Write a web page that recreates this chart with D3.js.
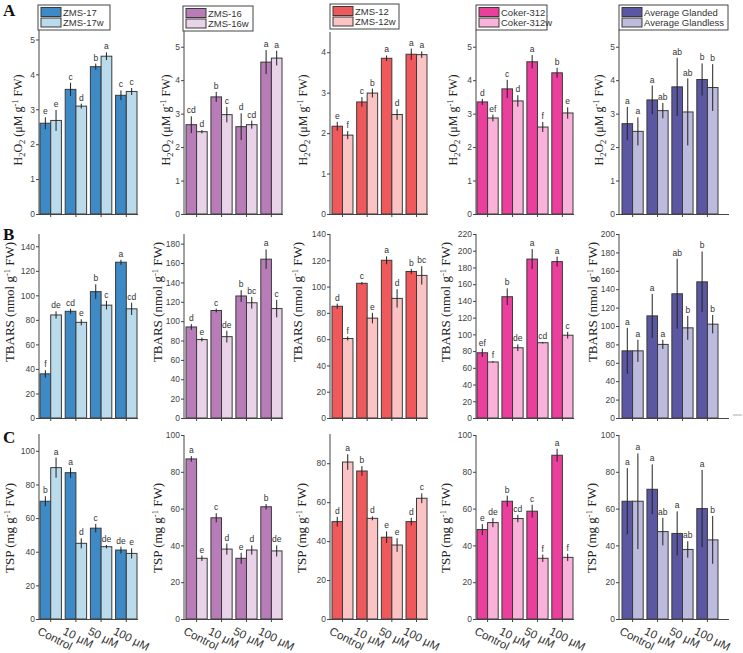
<!DOCTYPE html>
<html>
<head>
<meta charset="utf-8">
<script src="https://cdn.jsdelivr.net/npm/d3@7"></script>
<style>
  body { margin: 0; background: #fff; }
  svg text { font-family: Arial, "Liberation Sans", sans-serif; fill: #333; }
</style>
</head>
<body>
<script>
(function () {
  'use strict';

  // ---- data ----
  const doses = ['Control', '10 μM', '50 μM', '100 μM'];
  const glandedNames = ['ZMS-17', 'ZMS-16', 'ZMS-12', 'Coker-312', 'Average Glanded'];
  const glandlessNames = ['ZMS-17w', 'ZMS-16w', 'ZMS-12w', 'Coker-312w', 'Average Glandless'];

  // H2O2 (uM g-1 FW)
  const h2o2Glanded = [
    [2.6, 3.57, 4.22, 3.4],
    [2.67, 3.5, 2.61, 4.54],
    [2.17, 2.77, 3.85, 3.95],
    [3.35, 3.74, 4.55, 4.22],
    [2.7, 3.41, 3.8, 4.02]
  ];
  const h2o2GlandedErr = [
    [0.17, 0.19, 0.09, 0.14],
    [0.25, 0.15, 0.4, 0.36],
    [0.11, 0.12, 0.07, 0.14],
    [0.09, 0.27, 0.2, 0.15],
    [0.5, 0.43, 0.87, 0.48]
  ];
  const h2o2Glandless = [
    [2.68, 3.09, 4.52, 3.51],
    [2.46, 2.97, 2.67, 4.66],
    [1.95, 2.99, 2.46, 3.94],
    [2.87, 3.38, 2.6, 3.02],
    [2.47, 3.09, 3.05, 3.78]
  ];
  const h2o2GlandlessErr = [
    [0.3, 0.07, 0.11, 0.1],
    [0.05, 0.23, 0.12, 0.22],
    [0.1, 0.11, 0.13, 0.08],
    [0.1, 0.17, 0.15, 0.17],
    [0.42, 0.23, 1.0, 0.7]
  ];
  const h2o2GlandedLetters = [
    ['e', 'c', 'b', 'c'], ['cd', 'b', 'd', 'a'], ['e', 'c', 'a', 'a'], ['d', 'c', 'a', 'b'], ['a', 'a', 'ab', 'b']
  ];
  const h2o2GlandlessLetters = [
    ['e', 'd', 'a', 'c'], ['d', 'c', 'cd', 'a'], ['f', 'b', 'd', 'a'], ['ef', 'd', 'f', 'e'], ['a', 'ab', 'ab', 'b']
  ];

  // TBARS (nmol g-1 FW)
  const tbarsGlanded = [
    [36, 87, 103, 127],
    [94, 111, 126, 164],
    [85, 102.5, 120, 111.5],
    [78, 145, 190, 187],
    [73, 111, 135, 148]
  ];
  const tbarsGlandedErr = [
    [3, 2, 6, 2],
    [3, 2, 6, 10],
    [2, 1, 3, 2],
    [5, 10, 12, 6],
    [25, 24, 38, 33]
  ];
  const tbarsGlandless = [
    [84, 78, 92, 89],
    [81, 84, 119, 113],
    [60.5, 76, 91, 108.5],
    [67, 84, 90, 99],
    [73, 80, 98, 102]
  ];
  const tbarsGlandlessErr = [
    [3, 2.5, 3.5, 5],
    [2, 6, 6, 9],
    [1.5, 4, 7, 7],
    [1, 4, 1, 4],
    [12, 5, 13, 10]
  ];
  const tbarsGlandedLetters = [
    ['f', 'cd', 'b', 'a'], ['d', 'c', 'b', 'a'], ['d', 'c', 'a', 'b'], ['ef', 'b', 'a', 'a'], ['a', 'a', 'ab', 'b']
  ];
  const tbarsGlandlessLetters = [
    ['de', 'e', 'c', 'cd'], ['e', 'de', 'bc', 'c'], ['f', 'e', 'd', 'bc'], ['f', 'de', 'cd', 'c'], ['a', 'a', 'b', 'b']
  ];

  // TSP (mg g-1 FW)
  const tspGlanded = [
    [70, 87, 54, 41],
    [87, 55, 33, 61],
    [50, 76, 42, 50],
    [48.6, 64, 58.6, 89],
    [64, 70.5, 46.5, 60]
  ];
  const tspGlandedErr = [
    [3, 3, 2.5, 2],
    [1.5, 2.5, 3, 1.5],
    [2.5, 2.5, 3, 2],
    [3, 3, 3.5, 3.5],
    [18, 13.5, 12, 21]
  ];
  const tspGlandless = [
    [90, 45, 43, 39],
    [33, 38, 37.5, 37],
    [80.6, 51.7, 38, 62],
    [52.4, 54.6, 33, 33.5],
    [64, 47.5, 37.8, 43]
  ];
  const tspGlandlessErr = [
    [6, 3, 1, 3],
    [1.5, 3, 2.5, 3],
    [4, 1, 3.5, 2.5],
    [2.5, 2, 2, 2],
    [26, 7.5, 4.5, 13]
  ];
  const tspGlandedLetters = [
    ['b', 'a', 'c', 'de'], ['a', 'c', 'e', 'b'], ['d', 'b', 'e', 'd'], ['e', 'b', 'c', 'a'], ['a', 'a', 'a', 'a']
  ];
  const tspGlandlessLetters = [
    ['a', 'd', 'de', 'e'], ['e', 'd', 'd', 'de'], ['a', 'd', 'e', 'c'], ['de', 'cd', 'f', 'f'], ['a', 'ab', 'ab', 'b']
  ];

  // axis ranges / tick steps
  const yMaxA = [5.5, 5.5, 4.5, 5.5, 5.5];
  const yMaxB = [150, 190, 140, 220, 200];
  const yMaxC = [110, 100, 95, 100, 100];
  const tickStepA = 1, tickStepB = 20, tickStepC = 20;

  // ---- styling / layout ----
  const darkColors  = ['#3d8ac7', '#b87db8', '#f0595b', '#ea3f9d', '#5c57a3'];
  const lightColors = ['#b9dbec', '#e8d3e8', '#fbc3c3', '#f9b2d9', '#bdbbdd'];

  const colAxisX = [39, 184, 330, 476, 619];
  const colBarL  = [40, 186, 332, 477, 622];
  const colBarR  = [137, 282, 427, 573, 718];
  const colAxisR = [138, 283, 428, 574, 729];

  const legendBox = [
    { x: 38, y: 5, w: 72 }, { x: 183, y: 6, w: 70 }, { x: 330, y: 4, w: 69 },
    { x: 476, y: 5, w: 71 }, { x: 619, y: 5, w: 109 }
  ];

  const rows = [
    {
      label: 'A', labelY: 16, zero: 214, tops: [22, 30, 32, 30, 30], yMax: yMaxA, step: tickStepA,
      vals: [h2o2Glanded, h2o2Glandless], errs: [h2o2GlandedErr, h2o2GlandlessErr],
      letters: [h2o2GlandedLetters, h2o2GlandlessLetters],
      title: [['H'], ['2', 'sub'], ['O'], ['2', 'sub'], [' (μM g'], ['-1', 'sup'], [' FW)']],
      titleX: [22, 170, 307, 457, 603], titleY: 120, titleSize: 12, legend: true, xLabels: false
    },
    {
      label: 'B', labelY: 240, zero: 418, tops: [234, 234, 234, 234, 234], yMax: yMaxB, step: tickStepB,
      vals: [tbarsGlanded, tbarsGlandless], errs: [tbarsGlandedErr, tbarsGlandlessErr],
      letters: [tbarsGlandedLetters, tbarsGlandlessLetters],
      title: [['TBARS (nmol g'], ['-1', 'sup'], [' FW)']],
      titleX: [14, 162, 302, 450, 597], titleY: 302, titleSize: 13, legend: false, xLabels: false
    },
    {
      label: 'C', labelY: 443, zero: 619, tops: [434, 435, 434, 435, 435], yMax: yMaxC, step: tickStepC,
      vals: [tspGlanded, tspGlandless], errs: [tspGlandedErr, tspGlandlessErr],
      letters: [tspGlandedLetters, tspGlandlessLetters],
      title: [['TSP (mg g'], ['-1', 'sup'], [' FW)']],
      titleX: [14, 162, 306, 450, 596], titleY: 528, titleSize: 13, legend: false, xLabels: true
    }
  ];

  const svg = d3.select('body')
    .append('svg')
    .attr('width', 743)
    .attr('height', 653);

  rows.forEach(row => {
    // panel letter
    svg.append('text')
      .attr('x', 3)
      .attr('y', row.labelY)
      .style('font-family', '"Liberation Serif", "Times New Roman", serif')
      .style('font-weight', 'bold')
      .style('font-size', '17px')
      .style('fill', '#111')
      .text(row.label);

    for (let c = 0; c < 5; c++) {
      const g = svg.append('g');

      const x = d3.scaleBand()
        .domain(doses)
        .range([colBarL[c], colBarR[c]])
        .paddingInner(0.15)
        .paddingOuter(0);
      const bw = x.bandwidth() / 2;

      const y = d3.scaleLinear()
        .domain([0, row.yMax[c]])
        .range([row.zero, row.tops[c]]);

      // y axis
      const yAxis = d3.axisLeft(y)
        .tickValues(d3.range(0, row.yMax[c] + 1e-9, row.step))
        .tickSize(3)
        .tickPadding(1)
        .tickFormat(d3.format('d'));
      const ya = g.append('g')
        .attr('transform', `translate(${colAxisX[c]},0)`)
        .call(yAxis);
      ya.select('.domain').attr('d', `M0,${row.zero}V${row.tops[c]}`).attr('stroke', '#444');
      ya.selectAll('.tick line').attr('stroke', '#444');
      ya.selectAll('.tick text').style('font-size', '8.5px').style('fill', '#444').style('font-family', 'Arial, "Liberation Sans", sans-serif');

      // bars
      const series = [
        { vals: row.vals[0][c], errs: row.errs[0][c], lets: row.letters[0][c], color: darkColors[c], off: 0 },
        { vals: row.vals[1][c], errs: row.errs[1][c], lets: row.letters[1][c], color: lightColors[c], off: bw }
      ];

      series.forEach(s => {
        const data = doses.map((d, i) => ({ dose: d, v: s.vals[i], e: s.errs[i], l: s.lets[i] }));

        g.append('g').selectAll('rect')
          .data(data)
          .enter()
          .append('rect')
          .attr('x', d => x(d.dose) + s.off)
          .attr('y', d => y(d.v))
          .attr('width', bw)
          .attr('height', d => row.zero - y(d.v))
          .attr('fill', s.color)
          .attr('stroke', '#3a3a3a')
          .attr('stroke-width', 1);

        g.append('g').selectAll('line')
          .data(data)
          .enter()
          .append('line')
          .attr('x1', d => x(d.dose) + s.off + bw / 2)
          .attr('x2', d => x(d.dose) + s.off + bw / 2)
          .attr('y1', d => y(d.v - d.e))
          .attr('y2', d => y(d.v + d.e))
          .attr('stroke', '#222')
          .attr('stroke-width', 1);

        g.append('g').selectAll('text')
          .data(data)
          .enter()
          .append('text')
          .attr('x', d => x(d.dose) + s.off + bw / 2)
          .attr('y', d => y(d.v + d.e) - 3)
          .attr('text-anchor', 'middle')
          .style('font-size', '8.5px')
          .text(d => d.l);
      });

      // x axis
      g.append('line')
        .attr('x1', colAxisX[c])
        .attr('x2', colAxisR[c])
        .attr('y1', row.zero + 0.5)
        .attr('y2', row.zero + 0.5)
        .attr('stroke', '#444');
      g.append('g').selectAll('line')
        .data(doses)
        .enter()
        .append('line')
        .attr('x1', d => x(d) + bw)
        .attr('x2', d => x(d) + bw)
        .attr('y1', row.zero)
        .attr('y2', row.zero + 3)
        .attr('stroke', '#444');

      if (row.xLabels) {
        g.append('g').selectAll('text')
          .data(doses)
          .enter()
          .append('text')
          .attr('transform', d => `translate(${x(d) + bw - 10},${row.zero + 7}) rotate(27)`)
          .attr('dy', '0.75em')
          .style('font-size', '11.5px')
          .text(d => d);
      }

      // y title
      const t = g.append('text')
        .attr('transform', `translate(${row.titleX[c]},${row.titleY}) rotate(-90)`)
        .attr('text-anchor', 'middle')
        .style('font-family', '"Liberation Serif", "Times New Roman", serif')
        .style('font-size', row.titleSize + 'px')
        .style('fill', '#222');
      let prev = 0;
      row.title.forEach(([txt, kind]) => {
        const shift = kind === 'sub' ? 3 : kind === 'sup' ? -4.5 : 0;
        t.append('tspan')
          .attr('dy', shift - prev)
          .style('font-size', kind ? '8.5px' : null)
          .text(txt);
        prev = shift;
      });

      // legend (row A only)
      if (row.legend) {
        const lb = legendBox[c];
        const lg = g.append('g');
        lg.append('rect')
          .attr('x', lb.x).attr('y', lb.y)
          .attr('width', lb.w).attr('height', 25)
          .attr('fill', '#fff').attr('stroke', '#444');
        [glandedNames[c], glandlessNames[c]].forEach((name, i) => {
          lg.append('rect')
            .attr('x', lb.x + 3).attr('y', lb.y + 2.5 + i * 10.5)
            .attr('width', 20).attr('height', 9)
            .attr('fill', i ? lightColors[c] : darkColors[c])
            .attr('stroke', '#3a3a3a');
          lg.append('text')
            .attr('x', lb.x + 25).attr('y', lb.y + 10.5 + i * 10.5)
            .style('font-size', '9.5px')
            .text(name);
        });
      }
    }
  });

  // stray mark at the right edge of the figure
  svg.append('line')
    .attr('x1', 733).attr('x2', 742)
    .attr('y1', 415).attr('y2', 415)
    .attr('stroke', '#aaa');
})();
</script>
</body>
</html>
